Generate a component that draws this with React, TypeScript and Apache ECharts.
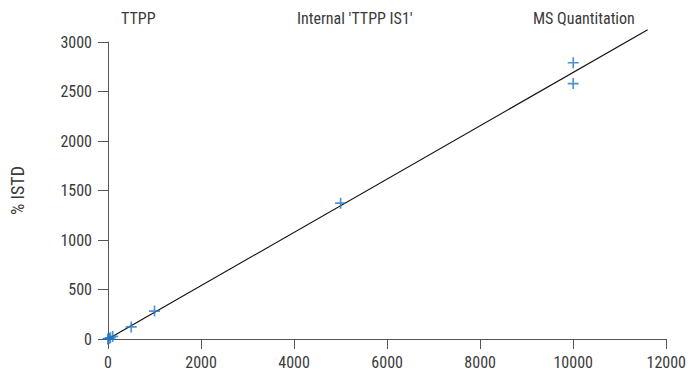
import React, { useEffect, useRef } from "react";
import * as echarts from "echarts";

const xTicks = [0, 2000, 4000, 6000, 8000, 10000, 12000];
const yTicks = [0, 500, 1000, 1500, 2000, 2500, 3000];
const pointsX = [0, 10, 20, 50, 100, 500, 1000, 5000, 10000, 10000];
const pointsY = [0, 3, 5, 13, 26, 122, 282, 1372, 2580, 2790];
const fitX = [0, 11600];
const fitY = [0, 3124];
const titles = ["TTPP", "Internal 'TTPP IS1'", "MS Quantitation"];
const titleLefts = [116, 292, 528];
const yName = "% ISTD";

const FONT = "'Liberation Sans Narrow', 'Roboto Condensed', 'Liberation Sans', sans-serif";

export default function App() {
  const ref = useRef<HTMLDivElement>(null);
  useEffect(() => {
    document.body.style.margin = "0";
    const chart = echarts.init(ref.current!, null, { renderer: "svg" });
    const plus = "path://M0,4.25h10v1.5h-10z M4.25,0h1.5v10h-1.5z";
    chart.setOption({
      animation: false,
      textStyle: { fontFamily: FONT },
      grid: { left: 107, right: 22, top: 42, bottom: 34 },
      title: titles.map((t, i) => ({
        text: t,
        left: titleLefts[i],
        top: 5,
        textStyle: { fontFamily: FONT, fontSize: 16, fontWeight: "normal", color: "#3a3a3a" },
      })),
      xAxis: {
        type: "value",
        min: xTicks[0],
        max: xTicks[xTicks.length - 1],
        interval: 2000,
        splitLine: { show: false },
        axisLine: { show: true, lineStyle: { color: "#555", width: 1 } },
        axisTick: { show: true, length: 10, lineStyle: { color: "#555" } },
        axisLabel: { color: "#3a3a3a", fontSize: 16, margin: 15, fontFamily: FONT, formatter: (v: number) => String(v) },
      },
      yAxis: {
        type: "value",
        min: yTicks[0],
        max: yTicks[yTicks.length - 1],
        interval: 500,
        name: yName,
        nameLocation: "middle",
        nameGap: 82,
        nameTextStyle: { color: "#3a3a3a", fontSize: 18, fontFamily: FONT },
        splitLine: { show: false },
        axisLine: { show: true, lineStyle: { color: "#555", width: 1 } },
        axisTick: { show: true, length: 10, lineStyle: { color: "#555" } },
        axisLabel: { color: "#3a3a3a", fontSize: 16, margin: 16, fontFamily: FONT, formatter: (v: number) => String(v) },
      },
      series: [
        {
          type: "line",
          data: fitX.map((x, i) => [x, fitY[i]]),
          symbol: "none",
          clip: false,
          lineStyle: { color: "#111", width: 1.2 },
          silent: true,
          z: 1,
        },
        {
          type: "scatter",
          data: pointsX.map((x, i) => [x, pointsY[i]]),
          symbol: plus,
          symbolSize: 11,
          itemStyle: { color: "#2277c6" },
          z: 2,
        },
      ],
    });
    return () => chart.dispose();
  }, []);
  return <div ref={ref} style={{ width: 689, height: 373 }} />;
}
